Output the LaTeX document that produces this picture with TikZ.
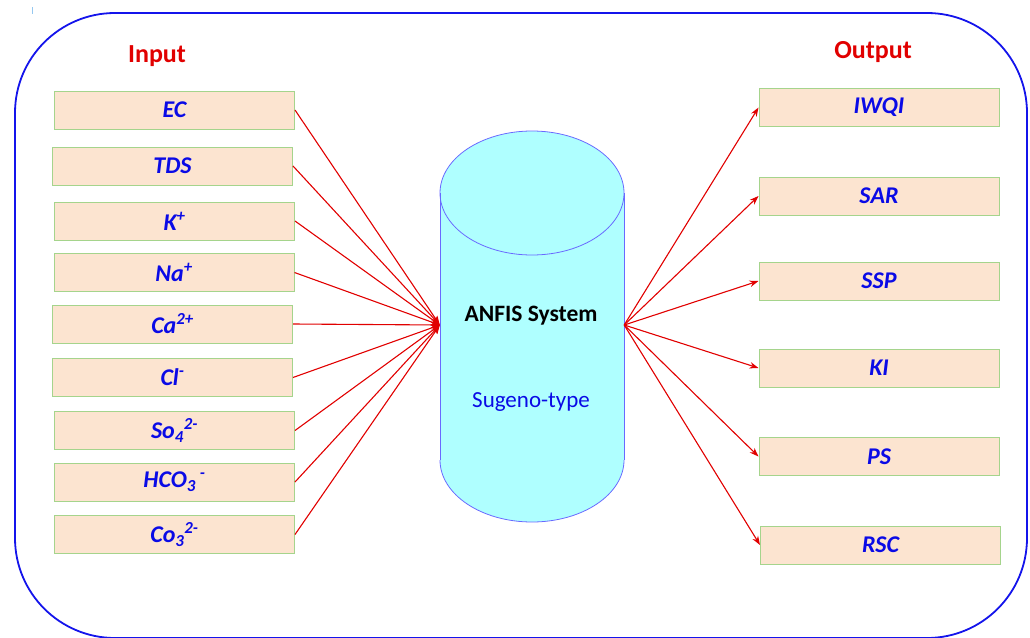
\documentclass[tikz,border=0pt]{standalone}
\usepackage{fontspec}
\setmainfont{Carlito}
\usetikzlibrary{arrows.meta}

\definecolor{framecol}{RGB}{20,20,235}
\definecolor{boxfill}{RGB}{252,228,208}
\definecolor{boxline}{RGB}{165,212,140}
\definecolor{labelblue}{RGB}{10,10,230}
\definecolor{headred}{RGB}{225,0,0}
\definecolor{cylfill}{RGB}{175,255,255}
\definecolor{cylline}{RGB}{105,105,255}
\definecolor{tickblue}{RGB}{150,200,240}

\begin{document}
\begin{tikzpicture}[x=1pt,y=-1pt,
  varbox/.style={draw=boxline, fill=boxfill, line width=1pt,
    minimum width=240pt, minimum height=38pt, inner sep=0pt,
    font=\fontsize{24}{24}\selectfont\bfseries\itshape, text=labelblue},
  heading/.style={font=\fontsize{26}{28}\selectfont\bfseries, text=headred},
  link/.style={draw=headred, line width=1.1pt,
    -{Stealth[length=9pt,width=6.5pt]}},
  cylpart/.style={draw=cylline, line width=0.8pt}
]
\useasboundingbox (0,0) rectangle (1030,637);

% outer frame
\draw[framecol, line width=1.8pt, rounded corners=100pt] (15,13) rectangle (1027,638);
\draw[tickblue, line width=0.8pt] (32,7) -- (32,14);

% headings
\node[heading] (hin) at (157,56) {Input};
\node[heading] (hout) at (873,52) {Output};

% ANFIS cylinder
\fill[cylfill] (440,193) rectangle (624,460);
\fill[cylfill] (532,460) ellipse [x radius=92, y radius=62];
\fill[cylfill] (532,193) ellipse [x radius=92, y radius=62];
\draw[cylpart] (532,193) ellipse [x radius=92, y radius=62];
\draw[cylpart] (440,193) -- (440,460);
\draw[cylpart] (624,193) -- (624,460);
\begin{scope}
  \clip (430,460) rectangle (634,530);
  \draw[cylpart] (532,460) ellipse [x radius=92, y radius=62];
\end{scope}
\node[inner sep=0pt, minimum width=184pt, minimum height=10pt] (cyl) at (532,325) {};
\node[font=\fontsize{23.5}{24}\selectfont\bfseries, text=black] (ttl) at (531,316) {ANFIS System};
\node[font=\fontsize{23}{24}\selectfont, text=labelblue] (sub) at (531,402) {Sugeno-type};

% input variables
\node[varbox] (ec)   at (174.5,110)   {EC};
\node[varbox] (tds)  at (172.5,166)   {TDS};
\node[varbox] (k)    at (174.5,221)   {K\textsuperscript{+}};
\node[varbox] (na)   at (174,272.5)   {Na\textsuperscript{+}};
\node[varbox] (ca)   at (172.5,324)   {Ca\textsuperscript{2+}};
\node[varbox] (cl)   at (172.5,377.5) {Cl\textsuperscript{-}};
\node[varbox] (so)   at (174.5,430.5) {So\textsubscript{4}\textsuperscript{2-}};
\node[varbox] (hco)  at (174.5,482)   {HCO\textsubscript{3}\,\textsuperscript{-}};
\node[varbox] (co)   at (174.5,534.5) {Co\textsubscript{3}\textsuperscript{2-}};

% output indices
\node[varbox] (iwqi) at (879,107.5)   {IWQI};
\node[varbox] (sar)  at (879,196)     {SAR};
\node[varbox] (ssp)  at (879,281)     {SSP};
\node[varbox] (ki)   at (879,368)     {KI};
\node[varbox] (ps)   at (879,456.5)   {PS};
\node[varbox] (rsc)  at (880.5,545)   {RSC};

% connections into the system
\foreach \v in {ec,tds,k,na,ca,cl,so,hco,co}
  \draw[link] (\v.east) -- (cyl.west);

% connections out of the system
\foreach \v in {iwqi,sar,ssp,ki,ps,rsc}
  \draw[link] (cyl.east) -- (\v.west);
\end{tikzpicture}
\end{document}
